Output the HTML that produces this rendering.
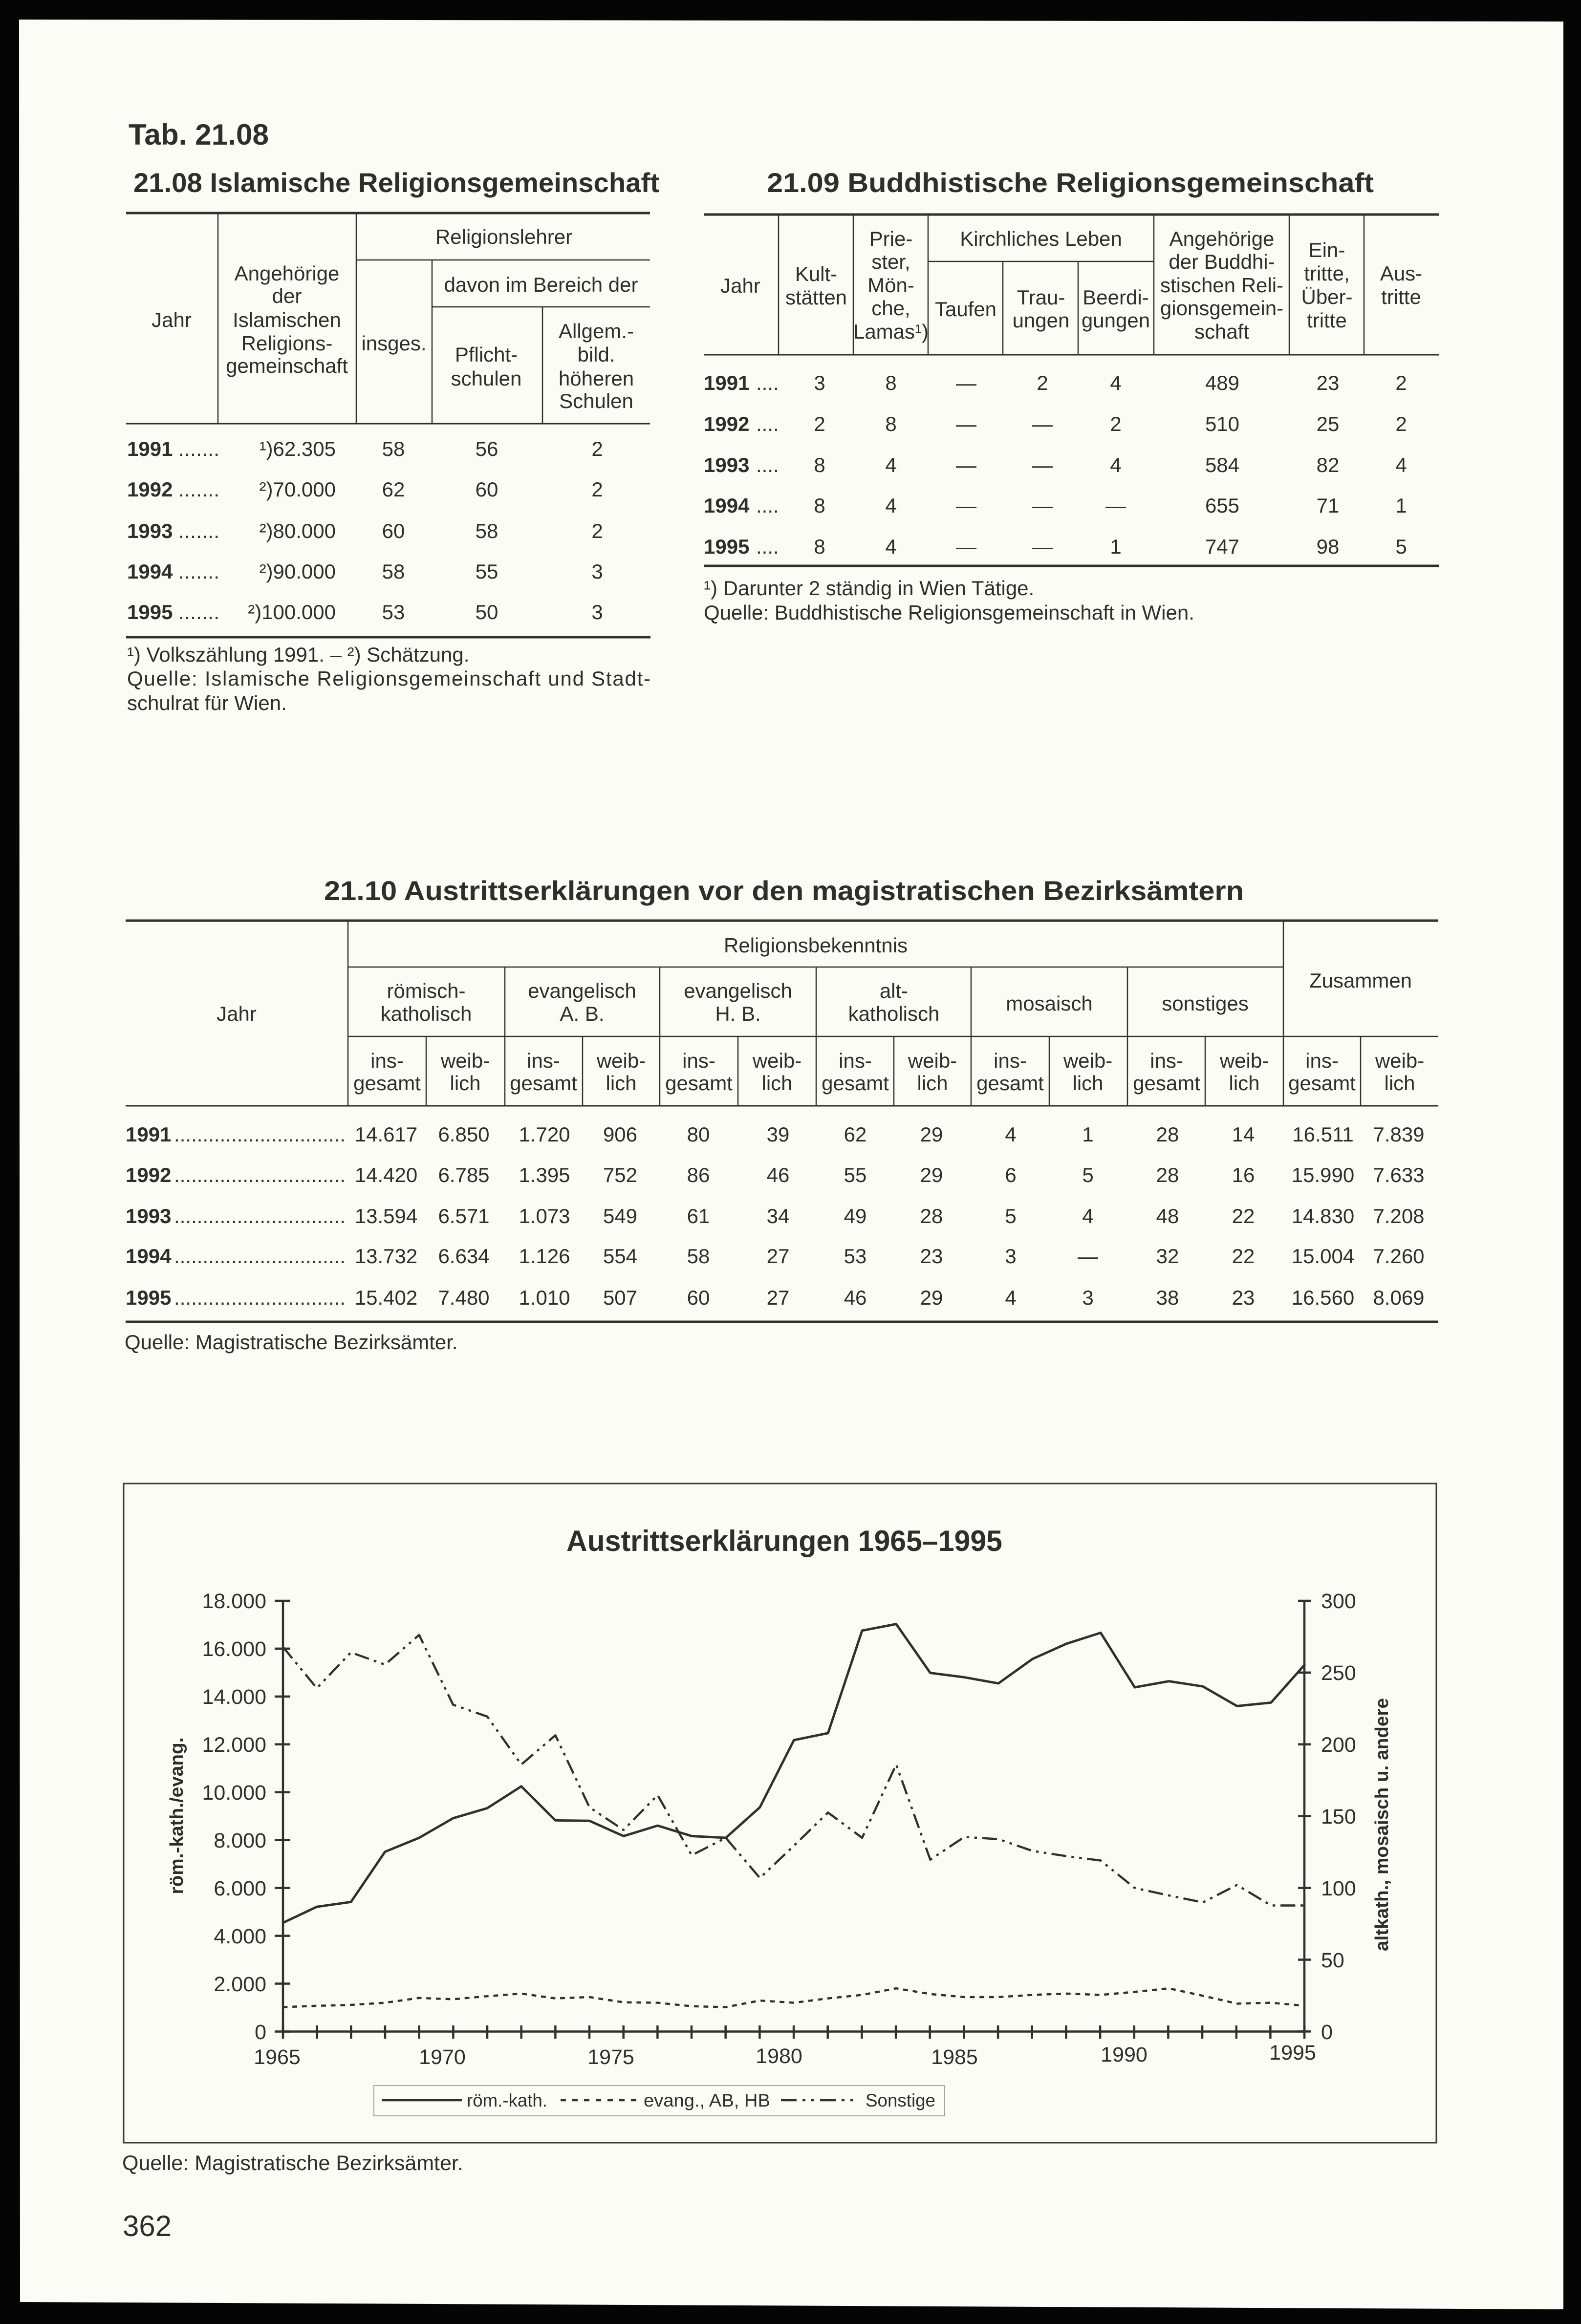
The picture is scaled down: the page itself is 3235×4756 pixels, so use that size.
<!DOCTYPE html>
<html>
<head>
<meta charset="utf-8">
<style>
html,body{margin:0;padding:0;background:#000;}
svg{display:block;}
text{font-family:"Liberation Sans",Arial,sans-serif;fill:#2e2f2b;}
.b{font-weight:bold;}
</style>
</head>
<body>
<svg width="3235" height="4756" viewBox="0 0 3235 4756" xmlns="http://www.w3.org/2000/svg">
<rect x="0" y="0" width="3235" height="4756" fill="#050505"/>
<polygon points="39,40 3199,44 3199,4726 41,4711" fill="#fcfcf7"/>

<!-- Titles -->
<text class="b" x="263" y="296" font-size="60" textLength="287" lengthAdjust="spacingAndGlyphs">Tab. 21.08</text>
<text class="b" x="273" y="393" font-size="56" textLength="1076" lengthAdjust="spacingAndGlyphs">21.08 Islamische Religionsgemeinschaft</text>
<text class="b" x="1569" y="393" font-size="56" textLength="1242" lengthAdjust="spacingAndGlyphs">21.09 Buddhistische Religionsgemeinschaft</text>
<text class="b" x="663" y="1842" font-size="56" textLength="1882" lengthAdjust="spacingAndGlyphs">21.10 Austrittserklärungen vor den magistratischen Bezirksämtern</text>

<!-- ================= TABLE 21.08 ================= -->
<g stroke="#30312d" fill="none">
<line x1="258" y1="436" x2="1330" y2="436" stroke-width="5"/>
<line x1="258" y1="867" x2="1330" y2="867" stroke-width="3"/>
<line x1="258" y1="1304" x2="1331" y2="1304" stroke-width="5"/>
<line x1="446" y1="436" x2="446" y2="867" stroke-width="2.5"/>
<line x1="729" y1="436" x2="729" y2="867" stroke-width="2.5"/>
<line x1="729" y1="532" x2="1330" y2="532" stroke-width="2.5"/>
<line x1="884" y1="532" x2="884" y2="867" stroke-width="2.5"/>
<line x1="884" y1="628" x2="1330" y2="628" stroke-width="2.5"/>
<line x1="1110" y1="628" x2="1110" y2="867" stroke-width="2.5"/>
</g>
<g font-size="42" text-anchor="middle">
<text x="1031" y="499">Religionslehrer</text>
<text x="1107" y="597">davon im Bereich der</text>
<text x="351" y="669">Jahr</text>
<text x="587" y="574">Angehörige</text>
<text x="587" y="620">der</text>
<text x="587" y="669">Islamischen</text>
<text x="587" y="717">Religions-</text>
<text x="587" y="763">gemeinschaft</text>
<text x="806" y="717">insges.</text>
<text x="995" y="740">Pflicht-</text>
<text x="995" y="789">schulen</text>
<text x="1220" y="692">Allgem.-</text>
<text x="1220" y="740">bild.</text>
<text x="1220" y="789">höheren</text>
<text x="1220" y="835">Schulen</text>
</g>
<g font-size="42">
<text class="b" x="260" y="933">1991</text><text x="365" y="933" textLength="84" lengthAdjust="spacing">.......</text>
<text class="b" x="260" y="1016">1992</text><text x="365" y="1016" textLength="84" lengthAdjust="spacing">.......</text>
<text class="b" x="260" y="1101">1993</text><text x="365" y="1101" textLength="84" lengthAdjust="spacing">.......</text>
<text class="b" x="260" y="1184">1994</text><text x="365" y="1184" textLength="84" lengthAdjust="spacing">.......</text>
<text class="b" x="260" y="1267">1995</text><text x="365" y="1267" textLength="84" lengthAdjust="spacing">.......</text>
</g>
<g font-size="42" text-anchor="end">
<text x="687" y="933">¹)62.305</text>
<text x="687" y="1016">²)70.000</text>
<text x="687" y="1101">²)80.000</text>
<text x="687" y="1184">²)90.000</text>
<text x="687" y="1267">²)100.000</text>
</g>
<g font-size="42" text-anchor="middle">
<text y="933"><tspan x="805">58</tspan><tspan x="996">56</tspan><tspan x="1222">2</tspan></text>
<text y="1016"><tspan x="805">62</tspan><tspan x="996">60</tspan><tspan x="1222">2</tspan></text>
<text y="1101"><tspan x="805">60</tspan><tspan x="996">58</tspan><tspan x="1222">2</tspan></text>
<text y="1184"><tspan x="805">58</tspan><tspan x="996">55</tspan><tspan x="1222">3</tspan></text>
<text y="1267"><tspan x="805">53</tspan><tspan x="996">50</tspan><tspan x="1222">3</tspan></text>
</g>
<g font-size="42">
<text x="260" y="1354">¹) Volkszählung 1991. – ²) Schätzung.</text>
<text x="260" y="1403" textLength="1071" lengthAdjust="spacing">Quelle: Islamische Religionsgemeinschaft und Stadt-</text>
<text x="260" y="1453">schulrat für Wien.</text>
</g>

<!-- ================= TABLE 21.09 ================= -->
<g stroke="#30312d" fill="none">
<line x1="1440" y1="439" x2="2945" y2="439" stroke-width="5"/>
<line x1="1440" y1="726" x2="2945" y2="726" stroke-width="3"/>
<line x1="1440" y1="1158" x2="2945" y2="1158" stroke-width="5"/>
<line x1="1593" y1="439" x2="1593" y2="726" stroke-width="2.5"/>
<line x1="1746" y1="439" x2="1746" y2="726" stroke-width="2.5"/>
<line x1="1899" y1="439" x2="1899" y2="726" stroke-width="2.5"/>
<line x1="2361" y1="439" x2="2361" y2="726" stroke-width="2.5"/>
<line x1="2638" y1="439" x2="2638" y2="726" stroke-width="2.5"/>
<line x1="2791" y1="439" x2="2791" y2="726" stroke-width="2.5"/>
<line x1="1899" y1="535" x2="2361" y2="535" stroke-width="2.5"/>
<line x1="2052" y1="535" x2="2052" y2="726" stroke-width="2.5"/>
<line x1="2206" y1="535" x2="2206" y2="726" stroke-width="2.5"/>
</g>
<g font-size="42" text-anchor="middle">
<text x="1515" y="599">Jahr</text>
<text x="1670" y="575">Kult-</text>
<text x="1670" y="623">stätten</text>
<text x="1823" y="503">Prie-</text>
<text x="1823" y="550">ster,</text>
<text x="1823" y="598">Mön-</text>
<text x="1823" y="645">che,</text>
<text x="1823" y="693">Lamas¹)</text>
<text x="2130" y="503">Kirchliches Leben</text>
<text x="1976" y="647">Taufen</text>
<text x="2130" y="623">Trau-</text>
<text x="2130" y="670">ungen</text>
<text x="2283" y="623">Beerdi-</text>
<text x="2283" y="670">gungen</text>
<text x="2500" y="503">Angehörige</text>
<text x="2500" y="550">der Buddhi-</text>
<text x="2500" y="598">stischen Reli-</text>
<text x="2500" y="645">gionsgemein-</text>
<text x="2500" y="693">schaft</text>
<text x="2715" y="526">Ein-</text>
<text x="2715" y="574">tritte,</text>
<text x="2715" y="622">Über-</text>
<text x="2715" y="670">tritte</text>
<text x="2867" y="574">Aus-</text>
<text x="2867" y="622">tritte</text>
</g>
<g font-size="42">
<text class="b" x="1440" y="798">1991</text><text x="1547" y="798">....</text>
<text class="b" x="1440" y="882">1992</text><text x="1547" y="882">....</text>
<text class="b" x="1440" y="966">1993</text><text x="1547" y="966">....</text>
<text class="b" x="1440" y="1049">1994</text><text x="1547" y="1049">....</text>
<text class="b" x="1440" y="1133">1995</text><text x="1547" y="1133">....</text>
</g>
<g font-size="42" text-anchor="middle">
<text y="798"><tspan x="1677">3</tspan><tspan x="1823">8</tspan><tspan x="1977">—</tspan><tspan x="2133">2</tspan><tspan x="2283">4</tspan><tspan x="2501">489</tspan><tspan x="2717">23</tspan><tspan x="2867">2</tspan></text>
<text y="882"><tspan x="1677">2</tspan><tspan x="1823">8</tspan><tspan x="1977">—</tspan><tspan x="2133">—</tspan><tspan x="2283">2</tspan><tspan x="2501">510</tspan><tspan x="2717">25</tspan><tspan x="2867">2</tspan></text>
<text y="966"><tspan x="1677">8</tspan><tspan x="1823">4</tspan><tspan x="1977">—</tspan><tspan x="2133">—</tspan><tspan x="2283">4</tspan><tspan x="2501">584</tspan><tspan x="2717">82</tspan><tspan x="2867">4</tspan></text>
<text y="1049"><tspan x="1677">8</tspan><tspan x="1823">4</tspan><tspan x="1977">—</tspan><tspan x="2133">—</tspan><tspan x="2283">—</tspan><tspan x="2501">655</tspan><tspan x="2717">71</tspan><tspan x="2867">1</tspan></text>
<text y="1133"><tspan x="1677">8</tspan><tspan x="1823">4</tspan><tspan x="1977">—</tspan><tspan x="2133">—</tspan><tspan x="2283">1</tspan><tspan x="2501">747</tspan><tspan x="2717">98</tspan><tspan x="2867">5</tspan></text>
</g>
<g font-size="42">
<text x="1440" y="1218">¹) Darunter 2 ständig in Wien Tätige.</text>
<text x="1440" y="1268">Quelle: Buddhistische Religionsgemeinschaft in Wien.</text>
</g>

<!-- ================= TABLE 21.10 ================= -->
<g stroke="#30312d" fill="none">
<line x1="257" y1="1884" x2="2943" y2="1884" stroke-width="5"/>
<line x1="257" y1="2263" x2="2943" y2="2263" stroke-width="3"/>
<line x1="257" y1="2705" x2="2943" y2="2705" stroke-width="5"/>
<line x1="712" y1="1884" x2="712" y2="2263" stroke-width="2.5"/>
<line x1="2626" y1="1884" x2="2626" y2="2263" stroke-width="2.5"/>
<line x1="712" y1="1979" x2="2626" y2="1979" stroke-width="2.5"/>
<line x1="1033" y1="1979" x2="1033" y2="2263" stroke-width="2.5"/>
<line x1="1350" y1="1979" x2="1350" y2="2263" stroke-width="2.5"/>
<line x1="1670" y1="1979" x2="1670" y2="2263" stroke-width="2.5"/>
<line x1="1987" y1="1979" x2="1987" y2="2263" stroke-width="2.5"/>
<line x1="2307" y1="1979" x2="2307" y2="2263" stroke-width="2.5"/>
<line x1="712" y1="2121" x2="2943" y2="2121" stroke-width="2.5"/>
<line x1="872" y1="2121" x2="872" y2="2263" stroke-width="2.5"/>
<line x1="1192" y1="2121" x2="1192" y2="2263" stroke-width="2.5"/>
<line x1="1510" y1="2121" x2="1510" y2="2263" stroke-width="2.5"/>
<line x1="1829" y1="2121" x2="1829" y2="2263" stroke-width="2.5"/>
<line x1="2147" y1="2121" x2="2147" y2="2263" stroke-width="2.5"/>
<line x1="2466" y1="2121" x2="2466" y2="2263" stroke-width="2.5"/>
<line x1="2784" y1="2121" x2="2784" y2="2263" stroke-width="2.5"/>
</g>
<g font-size="42" text-anchor="middle">
<text x="1669" y="1949">Religionsbekenntnis</text>
<text x="2784" y="2021">Zusammen</text>
<text x="484" y="2089">Jahr</text>
<text x="872" y="2042">römisch-</text>
<text x="872" y="2089">katholisch</text>
<text x="1191" y="2042">evangelisch</text>
<text x="1191" y="2089">A. B.</text>
<text x="1510" y="2042">evangelisch</text>
<text x="1510" y="2089">H. B.</text>
<text x="1829" y="2042">alt-</text>
<text x="1829" y="2089">katholisch</text>
<text x="2147" y="2068">mosaisch</text>
<text x="2466" y="2068">sonstiges</text>
<text y="2185"><tspan x="792">ins-</tspan><tspan x="952">weib-</tspan><tspan x="1112">ins-</tspan><tspan x="1271">weib-</tspan><tspan x="1430">ins-</tspan><tspan x="1590">weib-</tspan><tspan x="1750">ins-</tspan><tspan x="1908">weib-</tspan><tspan x="2067">ins-</tspan><tspan x="2226">weib-</tspan><tspan x="2387">ins-</tspan><tspan x="2546">weib-</tspan><tspan x="2705">ins-</tspan><tspan x="2864">weib-</tspan></text>
<text y="2231"><tspan x="792">gesamt</tspan><tspan x="952">lich</tspan><tspan x="1112">gesamt</tspan><tspan x="1271">lich</tspan><tspan x="1430">gesamt</tspan><tspan x="1590">lich</tspan><tspan x="1750">gesamt</tspan><tspan x="1908">lich</tspan><tspan x="2067">gesamt</tspan><tspan x="2226">lich</tspan><tspan x="2387">gesamt</tspan><tspan x="2546">lich</tspan><tspan x="2705">gesamt</tspan><tspan x="2864">lich</tspan></text>
</g>
<g font-size="42">
<text class="b" x="257" y="2336">1991</text><text x="356" y="2336" textLength="351" lengthAdjust="spacing">..............................</text>
<text class="b" x="257" y="2419">1992</text><text x="356" y="2419" textLength="351" lengthAdjust="spacing">..............................</text>
<text class="b" x="257" y="2503">1993</text><text x="356" y="2503" textLength="351" lengthAdjust="spacing">..............................</text>
<text class="b" x="257" y="2585">1994</text><text x="356" y="2585" textLength="351" lengthAdjust="spacing">..............................</text>
<text class="b" x="257" y="2670">1995</text><text x="356" y="2670" textLength="351" lengthAdjust="spacing">..............................</text>
</g>
<g font-size="42" text-anchor="middle">
<text y="2336"><tspan x="790">14.617</tspan><tspan x="949">6.850</tspan><tspan x="1114">1.720</tspan><tspan x="1269">906</tspan><tspan x="1429">80</tspan><tspan x="1592">39</tspan><tspan x="1750">62</tspan><tspan x="1906">29</tspan><tspan x="2068">4</tspan><tspan x="2226">1</tspan><tspan x="2389">28</tspan><tspan x="2544">14</tspan><tspan x="2707">16.511</tspan><tspan x="2862">7.839</tspan></text>
<text y="2419"><tspan x="790">14.420</tspan><tspan x="949">6.785</tspan><tspan x="1114">1.395</tspan><tspan x="1269">752</tspan><tspan x="1429">86</tspan><tspan x="1592">46</tspan><tspan x="1750">55</tspan><tspan x="1906">29</tspan><tspan x="2068">6</tspan><tspan x="2226">5</tspan><tspan x="2389">28</tspan><tspan x="2544">16</tspan><tspan x="2707">15.990</tspan><tspan x="2862">7.633</tspan></text>
<text y="2503"><tspan x="790">13.594</tspan><tspan x="949">6.571</tspan><tspan x="1114">1.073</tspan><tspan x="1269">549</tspan><tspan x="1429">61</tspan><tspan x="1592">34</tspan><tspan x="1750">49</tspan><tspan x="1906">28</tspan><tspan x="2068">5</tspan><tspan x="2226">4</tspan><tspan x="2389">48</tspan><tspan x="2544">22</tspan><tspan x="2707">14.830</tspan><tspan x="2862">7.208</tspan></text>
<text y="2585"><tspan x="790">13.732</tspan><tspan x="949">6.634</tspan><tspan x="1114">1.126</tspan><tspan x="1269">554</tspan><tspan x="1429">58</tspan><tspan x="1592">27</tspan><tspan x="1750">53</tspan><tspan x="1906">23</tspan><tspan x="2068">3</tspan><tspan x="2226">—</tspan><tspan x="2389">32</tspan><tspan x="2544">22</tspan><tspan x="2707">15.004</tspan><tspan x="2862">7.260</tspan></text>
<text y="2670"><tspan x="790">15.402</tspan><tspan x="949">7.480</tspan><tspan x="1114">1.010</tspan><tspan x="1269">507</tspan><tspan x="1429">60</tspan><tspan x="1592">27</tspan><tspan x="1750">46</tspan><tspan x="1906">29</tspan><tspan x="2068">4</tspan><tspan x="2226">3</tspan><tspan x="2389">38</tspan><tspan x="2544">23</tspan><tspan x="2707">16.560</tspan><tspan x="2862">8.069</tspan></text>
</g>
<text x="255" y="2761" font-size="42">Quelle: Magistratische Bezirksämter.</text>

<!-- ================= CHART ================= -->
<rect x="253" y="3036" width="2686" height="1349" fill="none" stroke="#3a3b37" stroke-width="3"/>
<text class="b" x="1159" y="3174" font-size="60" textLength="892" lengthAdjust="spacingAndGlyphs">Austrittserklärungen 1965–1995</text>

<g stroke="#30312d" stroke-width="4.5" fill="none">
<line x1="579" y1="3276" x2="579" y2="4158"/>
<line x1="2669" y1="3276" x2="2669" y2="4158"/>
<line x1="577" y1="4157.5" x2="2671" y2="4157.5"/>
<!-- left ticks -->
<path d="M562 3276H594M562 3373.9H594M562 3471.9H594M562 3569.8H594M562 3667.8H594M562 3765.7H594M562 3863.6H594M562 3961.6H594M562 4059.5H594M562 4157.5H594"/>
<!-- right ticks -->
<path d="M2656 3276H2683M2656 3422.9H2683M2656 3569.8H2683M2656 3716.7H2683M2656 3863.6H2683M2656 4010.5H2683M2656 4157.4H2683"/>
<!-- x ticks -->
<path d="M579 4145V4172M648.7 4145V4172M718.3 4145V4172M788 4145V4172M857.7 4145V4172M927.4 4145V4172M997 4145V4172M1066.7 4145V4172M1136.4 4145V4172M1206 4145V4172M1275.7 4145V4172M1345.4 4145V4172M1415 4145V4172M1484.7 4145V4172M1554.4 4145V4172M1624.1 4145V4172M1693.7 4145V4172M1763.4 4145V4172M1833.1 4145V4172M1902.7 4145V4172M1972.4 4145V4172M2042.1 4145V4172M2111.7 4145V4172M2181.4 4145V4172M2251.1 4145V4172M2320.8 4145V4172M2390.4 4145V4172M2460.1 4145V4172M2529.8 4145V4172M2599.4 4145V4172M2669.1 4145V4172"/>
</g>

<g font-size="43" text-anchor="end">
<text x="545" y="3291">18.000</text>
<text x="545" y="3389">16.000</text>
<text x="545" y="3487">14.000</text>
<text x="545" y="3585">12.000</text>
<text x="545" y="3683">10.000</text>
<text x="545" y="3781">8.000</text>
<text x="545" y="3879">6.000</text>
<text x="545" y="3977">4.000</text>
<text x="545" y="4075">2.000</text>
<text x="545" y="4173">0</text>
</g>
<g font-size="43">
<text x="2703" y="3291">300</text>
<text x="2703" y="3438">250</text>
<text x="2703" y="3585">200</text>
<text x="2703" y="3732">150</text>
<text x="2703" y="3879">100</text>
<text x="2703" y="4026">50</text>
<text x="2703" y="4173">0</text>
</g>
<g font-size="43" text-anchor="middle">
<text x="567" y="4224">1965</text>
<text x="905" y="4224">1970</text>
<text x="1250" y="4224">1975</text>
<text x="1594" y="4222">1980</text>
<text x="1953" y="4224">1985</text>
<text x="2300" y="4219">1990</text>
<text x="2645" y="4215">1995</text>
</g>
<text class="b" font-size="38" text-anchor="middle" transform="translate(374 3716) rotate(-90)" textLength="321" lengthAdjust="spacingAndGlyphs">röm.-kath./evang.</text>
<text class="b" font-size="38" text-anchor="middle" transform="translate(2840 3734) rotate(-90)" textLength="518" lengthAdjust="spacingAndGlyphs">altkath., mosaisch u. andere</text>

<g transform="translate(250 3020) scale(0.892857)" fill="none" stroke="#30312d" stroke-linejoin="round">
<polyline stroke-width="5.5" points="368,1025 446.1,988 524.2,977 602.3,862 680.4,830 758.5,785 836.6,762 914.7,712 992.8,790 1070.9,791 1149,826 1227.1,802 1305.2,826 1383.3,830 1461.4,760 1539.5,606 1617.6,590 1695.7,355 1773.8,340 1851.9,452 1930,462 2008.1,476 2086.2,420 2164.3,385 2242.4,360 2320.5,485 2398.6,471 2476.7,483 2554.8,528 2632.9,520 2711,432"/>
<polyline stroke-width="5" stroke-dasharray="11 11" points="368,1218 446.1,1215 524.2,1213 602.3,1208 680.4,1197 758.5,1200 836.6,1193 914.7,1187 992.8,1198 1070.9,1195 1149,1207 1227.1,1208 1305.2,1216 1383.3,1218 1461.4,1203 1539.5,1208 1617.6,1198 1695.7,1190 1773.8,1175 1851.9,1188 1930,1195 2008.1,1195 2086.2,1190 2164.3,1187 2242.4,1190 2320.5,1183 2398.6,1175 2476.7,1192 2554.8,1210 2632.9,1208 2711,1215"/>
<polyline stroke-width="5" stroke-dasharray="34 12 6 12 6 12" points="368,392 446.1,487 524.2,405 602.3,433 680.4,365 758.5,525 836.6,552 914.7,662 992.8,595 1070.9,760 1149,812 1227.1,732 1305.2,870 1383.3,830 1461.4,922 1539.5,848 1617.6,772 1695.7,830 1773.8,662 1851.9,880 1930,828 2008.1,833 2086.2,860 2164.3,872 2242.4,882 2320.5,945 2398.6,962 2476.7,978 2554.8,938 2632.9,985 2711,985"/>
</g>

<!-- legend -->
<rect x="765" y="4268" width="1168" height="62" fill="none" stroke="#8a8b86" stroke-width="1.5"/>
<g stroke="#30312d" stroke-width="4.5" fill="none">
<line x1="781" y1="4298" x2="945" y2="4298"/>
<line x1="1147" y1="4298" x2="1308" y2="4298" stroke-dasharray="11 13"/>
<line x1="1598" y1="4298" x2="1756" y2="4298" stroke-dasharray="32 12 6 12 6 12"/>
</g>
<g font-size="37">
<text x="955" y="4311" textLength="165" lengthAdjust="spacingAndGlyphs">röm.-kath.</text>
<text x="1317" y="4311" textLength="259" lengthAdjust="spacingAndGlyphs">evang., AB, HB</text>
<text x="1771" y="4311" textLength="143" lengthAdjust="spacingAndGlyphs">Sonstige</text>
</g>

<text x="250" y="4441" font-size="43">Quelle: Magistratische Bezirksämter.</text>
<text x="251" y="4576" font-size="60">362</text>
</svg>
</body>
</html>
